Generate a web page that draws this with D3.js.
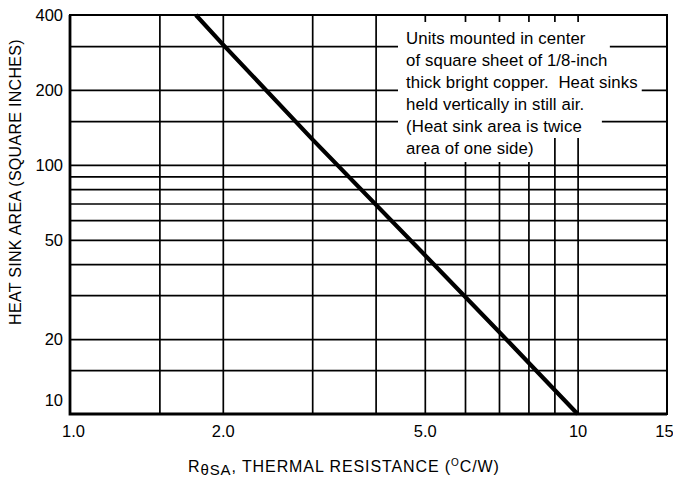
<!DOCTYPE html>
<html>
<head>
<meta charset="utf-8">
<script src="https://cdn.jsdelivr.net/npm/d3@7/dist/d3.min.js"></script>
<style>
  html, body { margin: 0; padding: 0; background: #fff; }
  svg { display: block; }
  text { font-family: "Liberation Sans", Arial, sans-serif; fill: #000; }
</style>
</head>
<body>
<div id="chart"></div>
<script>
// thermal resistance axis (deg C / W)
const xTickValues = [1.0, 2.0, 5.0, 10, 15];
const xTickLabels = ['1.0', '2.0', '5.0', '10', '15'];
const xGridValues = [1.5, 2, 3, 4, 5, 6, 7, 8, 9, 10];

// heat sink area axis (square inches)
const yTickValues = [10, 20, 50, 100, 200, 400];
const yTickLabels = ['10', '20', '50', '100', '200', '400'];
const yGridValues = [15, 20, 30, 40, 50, 60, 70, 80, 90, 100, 150, 200, 300];

// the curve
const resistance = [1.77, 2.0, 3.0, 5.0, 7.0, 10];
const area = [400, 305, 127, 43.5, 21.4, 10];

const noteLines = [
    'Units mounted in center',
    'of square sheet of 1/8-inch',
    'thick bright copper.  Heat sinks',
    'held vertically in still air.',
    '(Heat sink area is twice',
    'area of one side)'
];

const width = 673, height = 481;
const margin = {top: 15, right: 6, bottom: 67, left: 70};
const plotW = width - margin.left - margin.right;
const plotH = height - margin.top - margin.bottom;

const svg = d3.select('#chart').append('svg')
    .attr('width', width)
    .attr('height', height);

const x = d3.scaleLog().domain([1, 15]).range([margin.left, margin.left + plotW]);
const y = d3.scaleLog().domain([10, 400]).range([margin.top + plotH, margin.top]);

// grid
svg.append('g')
    .attr('class', 'xgrid')
    .attr('transform', 'translate(0,' + (margin.top + plotH) + ')')
    .call(d3.axisBottom(x).tickValues(xGridValues).tickSize(-plotH).tickFormat(''))
    .call(g => g.select('.domain').remove())
    .call(g => g.selectAll('line').attr('stroke', '#000').attr('stroke-width', 1.7));

svg.append('g')
    .attr('class', 'ygrid')
    .attr('transform', 'translate(' + margin.left + ',0)')
    .call(d3.axisLeft(y).tickValues(yGridValues).tickSize(-plotW).tickFormat(''))
    .call(g => g.select('.domain').remove())
    .call(g => g.selectAll('line').attr('stroke', '#000').attr('stroke-width', 1.7));

// note pasted over the grid
const noteX = 406;
const noteBase = [44, 66, 88, 110, 132, 154];
const notePad = [24, 14, 4, 12, 20, 14];
const note = svg.append('g').attr('class', 'note');
const noteText = note.selectAll('text')
    .data(noteLines)
    .enter().append('text')
    .attr('x', noteX)
    .attr('y', (d, i) => noteBase[i])
    .style('font-size', '16.8px')
    .style('letter-spacing', '0.1px')
    .style('white-space', 'pre')
    .text(d => d);

noteText.each(function(d, i) {
    let bb = this.getBBox();
    let top = i === 0 ? margin.top + 7 : noteBase[i] - 16;
    let bottom = i === noteLines.length - 1 ? noteBase[i] + 8 : noteBase[i] + 6;
    let right = Math.min(noteX + bb.width + notePad[i], margin.left + plotW - 12);
    note.insert('rect', 'text')
        .attr('x', noteX - 8)
        .attr('y', top)
        .attr('width', right - (noteX - 8))
        .attr('height', bottom - top)
        .attr('fill', '#fff');
});

// frame
svg.append('rect')
    .attr('x', margin.left)
    .attr('y', margin.top)
    .attr('width', plotW)
    .attr('height', plotH)
    .attr('fill', 'none')
    .attr('stroke', '#000')
    .attr('stroke-width', 2);

svg.append('path')
    .attr('d', 'M' + margin.left + ',' + margin.top + 'V' + (margin.top + plotH) + 'H' + (margin.left + plotW))
    .attr('fill', 'none')
    .attr('stroke', '#000')
    .attr('stroke-width', 2.8);

// curve
const pts = resistance.map((r, i) => [r, area[i]]);
svg.append('path')
    .datum(pts)
    .attr('fill', 'none')
    .attr('stroke', '#000')
    .attr('stroke-width', 4.2)
    .attr('d', d3.line().x(d => x(d[0])).y(d => y(d[1])));

// tick labels
svg.append('g')
    .attr('class', 'yaxis')
    .attr('transform', 'translate(' + (margin.left - 7) + ',0)')
    .call(d3.axisLeft(y).tickValues(yTickValues).tickSize(0)
        .tickFormat((d, i) => yTickLabels[i]))
    .call(g => g.select('.domain').remove())
    .call(g => g.selectAll('text')
        .attr('x', 0)
        .attr('dy', d => d === 10 ? '-0.5em' : '0.34em')
        .style('font-size', '16.5px')
        .style('font-family', '"Liberation Sans", Arial, sans-serif'));

svg.append('g')
    .attr('class', 'xaxis')
    .attr('transform', 'translate(0,' + (margin.top + plotH + 10) + ')')
    .call(d3.axisBottom(x).tickValues(xTickValues).tickSize(0)
        .tickFormat((d, i) => xTickLabels[i]))
    .call(g => g.select('.domain').remove())
    .call(g => g.selectAll('text')
        .attr('y', 0)
        .attr('dy', '0.78em')
        .attr('dx', d => d === 1 ? 3 : (d === 15 ? -3 : 0))
        .style('font-size', '16.5px')
        .style('font-family', '"Liberation Sans", Arial, sans-serif'));

// axis titles
svg.append('text')
    .attr('transform', 'translate(21,' + 182 + ')rotate(-90)')
    .attr('text-anchor', 'middle')
    .style('font-size', '16px')
    .style('letter-spacing', '0.3px')
    .text('HEAT SINK AREA (SQUARE INCHES)');

const xTitle = svg.append('text')
    .attr('x', 188)
    .attr('y', 472)
    .style('font-size', '16px')
    .style('letter-spacing', '0.9px');
xTitle.append('tspan').text('R');
xTitle.append('tspan').attr('dy', 3).style('font-size', '15px').text('\u03b8SA');
xTitle.append('tspan').attr('dy', -3).text(', THERMAL RESISTANCE (');
xTitle.append('tspan').attr('dy', -6).style('font-size', '10px').text('O');
xTitle.append('tspan').attr('dy', 6).text('C/W)');
</script>
</body>
</html>
